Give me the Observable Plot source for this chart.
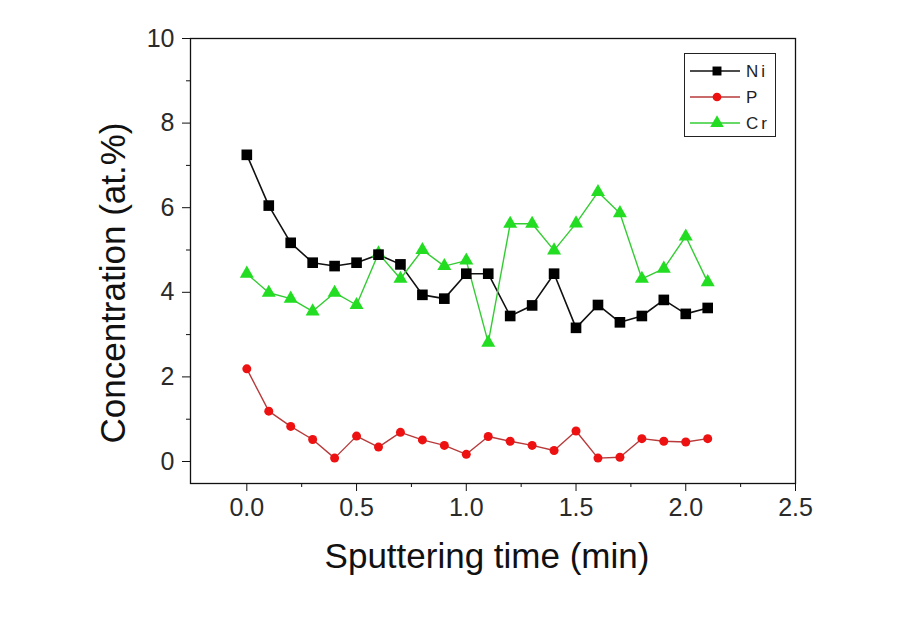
<!DOCTYPE html>
<html>
<head>
<meta charset="utf-8">
<script src="https://cdn.jsdelivr.net/npm/d3@7"></script>
<script src="https://cdn.jsdelivr.net/npm/@observablehq/plot@0.6"></script>
<style>
  body { margin: 0; background: #fff; }
  #wrap { position: relative; width: 924px; height: 630px; font-family: "Liberation Sans", Arial, sans-serif; }
  #legend { position: absolute; left: 684px; top: 53px; width: 92px; height: 84px; border: 1.3px solid #222; box-sizing: border-box; background: #fff; }
  #ylabel { position: absolute; left: 112px; top: 283px; transform: translate(-50%, -50%) rotate(-90deg); white-space: nowrap; font-size: 35px; line-height: 1; color: #111; }
</style>
</head>
<body>
<div id="wrap"></div>
<script>
const times = [0.0,0.1,0.2,0.3,0.4,0.5,0.6,0.7,0.8,0.9,1.0,1.1,1.2,1.3,1.4,1.5,1.6,1.7,1.8,1.9,2.0,2.1];
const ni = [7.25,6.05,5.17,4.70,4.62,4.70,4.89,4.66,3.94,3.85,4.44,4.44,3.44,3.69,4.44,3.16,3.70,3.29,3.44,3.82,3.49,3.63];
const p  = [2.19,1.19,0.83,0.52,0.08,0.60,0.34,0.69,0.51,0.38,0.17,0.59,0.48,0.38,0.26,0.72,0.08,0.10,0.54,0.48,0.46,0.54];
const cr = [4.44,3.99,3.85,3.55,3.99,3.70,4.92,4.32,5.00,4.62,4.75,2.81,5.62,5.62,4.99,5.63,6.37,5.87,4.32,4.56,5.32,4.24];
const xTicks = [0.0,0.5,1.0,1.5,2.0,2.5];
const xMinor = [0.25,0.75,1.25,1.75,2.25];
const yTicks = [0,2,4,6,8,10];
const yMinor = [1,3,5,7,9];
const seriesNames = ["Ni","P","Cr"];
const seriesColors = {Ni: "#000000", P: "#ee1111", Cr: "#22dd22"};
const lineColors = {Ni: "#111111", P: "#b83a3a", Cr: "#33cc33"};
const xLabel = "Sputtering time (min)";
const yLabel = "Concentration (at.%)";

const rows = (name, vals) => times.map((t, i) => ({t, v: vals[i], s: name}));
const niData = rows("Ni", ni), pData = rows("P", p), crData = rows("Cr", cr);

const chart = Plot.plot({
  width: 924, height: 630,
  marginLeft: 190, marginRight: 129, marginTop: 38, marginBottom: 147,
  style: {fontFamily: "'Liberation Sans', Arial, sans-serif", color: "#222", background: "#fff"},
  x: {domain: [-0.2566, 2.5]},
  y: {domain: [-0.52, 10]},
  marks: [
    Plot.frame({stroke: "#111", strokeWidth: 1.3}),
    Plot.axisX({ticks: xTicks, tickSize: 8, tickPadding: 7, tickFormat: d3.format(".1f"), fontSize: 25, fill: "#2a2a2a", label: null, stroke: "#111"}),
    Plot.axisX({ticks: xMinor, tickSize: 4, tickFormat: () => "", label: null, stroke: "#111"}),
    Plot.axisY({ticks: yTicks, tickSize: 8, tickPadding: 8, fontSize: 25, fill: "#2a2a2a", label: null, stroke: "#111"}),
    Plot.axisY({ticks: yMinor, tickSize: 4, tickFormat: () => "", label: null, stroke: "#111"}),
    Plot.text([xLabel], {frameAnchor: "bottom", dx: -6, dy: 84, fontSize: 35, fill: "#111"}),
    Plot.line(niData, {x: "t", y: "v", stroke: lineColors.Ni, strokeWidth: 1.6}),
    Plot.line(pData, {x: "t", y: "v", stroke: lineColors.P, strokeWidth: 1.4}),
    Plot.line(crData, {x: "t", y: "v", stroke: lineColors.Cr, strokeWidth: 1.4}),
    Plot.dot(crData, {x: "t", y: "v", symbol: "triangle", r: 5.2, fill: seriesColors.Cr, stroke: null}),
    Plot.dot(niData, {x: "t", y: "v", symbol: "square", r: 6, fill: seriesColors.Ni, stroke: null}),
    Plot.dot(pData, {x: "t", y: "v", symbol: "circle", r: 4.5, fill: seriesColors.P, stroke: null})
  ]
});

const wrap = document.getElementById("wrap");
wrap.appendChild(chart);

// y axis title
const yl = document.createElement("div");
yl.id = "ylabel";
yl.textContent = yLabel;
wrap.appendChild(yl);

// legend
const legend = document.createElement("div");
legend.id = "legend";
const symbols = {Ni: d3.symbolSquare, P: d3.symbolCircle, Cr: d3.symbolTriangle};
const sizes = {Ni: 80, P: 60, Cr: 80};
let svg = `<svg width="92" height="84" xmlns="http://www.w3.org/2000/svg" style="font-family:'Liberation Sans',Arial,sans-serif">`;
seriesNames.forEach((n, i) => {
  const y = 17 + i * 26;
  svg += `<line x1="5" x2="55" y1="${y}" y2="${y}" stroke="${lineColors[n]}" stroke-width="1.5"/>`;
  svg += `<path transform="translate(32,${y})" d="${d3.symbol(symbols[n], sizes[n])()}" fill="${seriesColors[n]}"/>`;
  svg += `<text x="61" y="${y}" dy="0.35em" font-size="17" fill="#222" letter-spacing="3">${n}</text>`;
});
svg += `</svg>`;
legend.innerHTML = svg;
wrap.appendChild(legend);
</script>
</body>
</html>
